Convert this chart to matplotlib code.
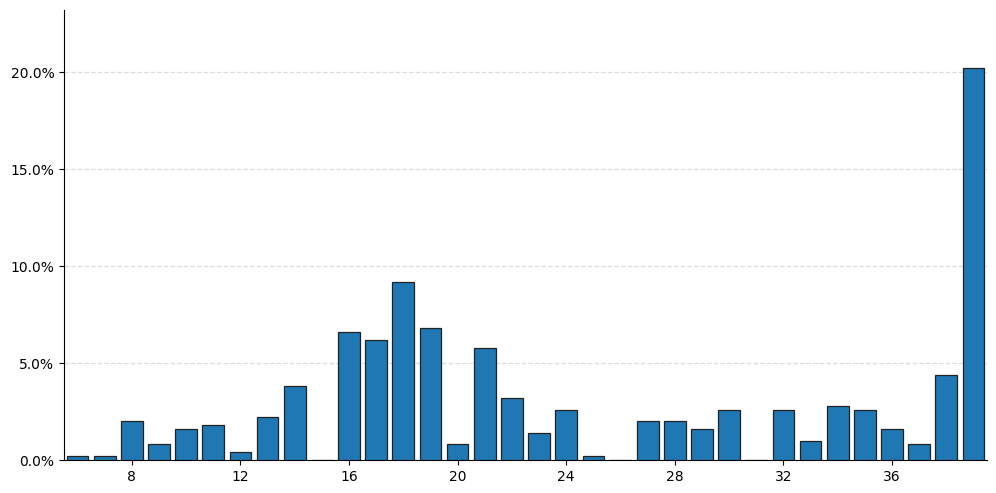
import matplotlib
matplotlib.use("Agg")
import matplotlib.pyplot as plt
from matplotlib.ticker import PercentFormatter, MultipleLocator

categories = list(range(6, 40))
values = [0.2, 0.2, 2.0, 0.8, 1.6, 1.8, 0.4, 2.2, 3.8, 0.0,
          6.6, 6.2, 9.2, 6.8, 0.8, 5.8, 3.2, 1.4, 2.6, 0.2,
          0.0, 2.0, 2.0, 1.6, 2.6, 0.0, 2.6, 1.0, 2.8, 2.6,
          1.6, 0.8, 4.4, 20.2]
xticks = [8, 12, 16, 20, 24, 28, 32, 36]

fig = plt.figure(figsize=(9.96, 4.93), dpi=100)
ax = fig.add_axes([64/996, 1 - 460/493, (987-64)/996, (460-9.5)/493])
ax.bar(categories, values, width=0.8, color="#1f77b4", edgecolor="#222222",
       linewidth=0.9, zorder=3)
ax.set_xlim(5.5, 39.5)
ax.set_ylim(0, max(values) * 1.15)
ax.set_xticks(xticks)
ax.yaxis.set_major_locator(MultipleLocator(5))
ax.yaxis.set_major_formatter(PercentFormatter(decimals=1))
ax.grid(axis="y", linestyle="--", color="#dddddd", linewidth=0.9, zorder=0)
ax.spines["top"].set_visible(False)
ax.spines["right"].set_visible(False)
ax.tick_params(labelsize=10)
fig.savefig("out.png", dpi=100)
